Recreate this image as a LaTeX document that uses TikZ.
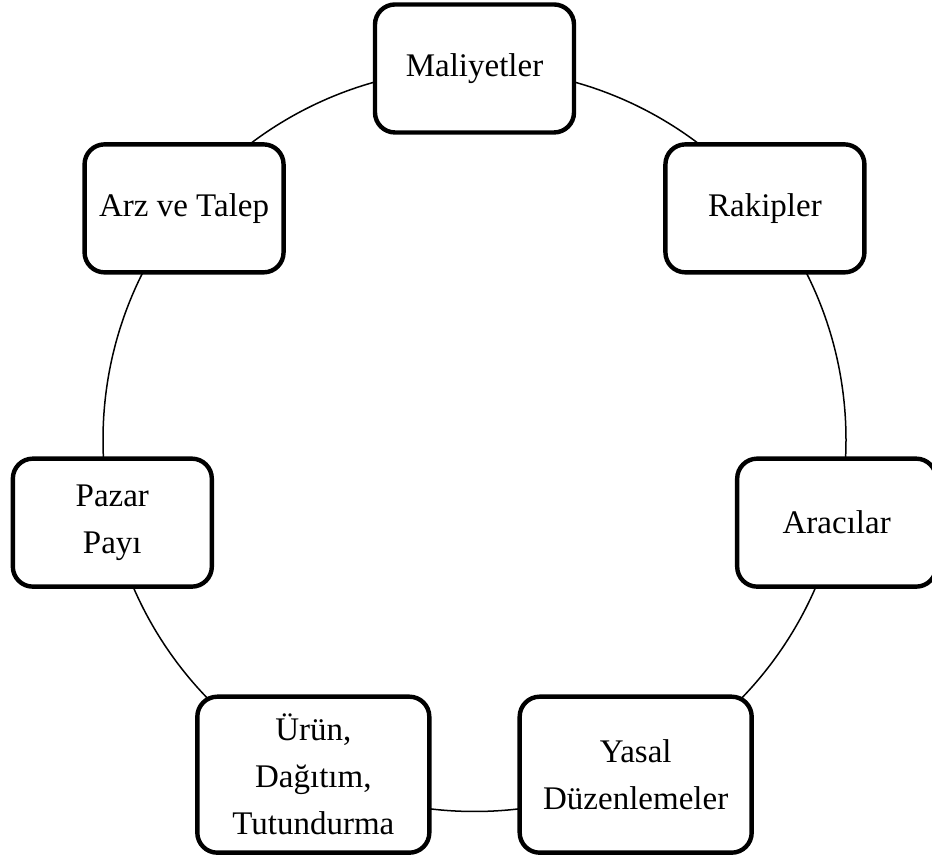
\documentclass[tikz,border=0pt]{standalone}
\usepackage{fontspec}
\setmainfont{Liberation Serif}
\usetikzlibrary{calc}
\begin{document}
\begin{tikzpicture}[x=0.5pt,y=0.5pt,
  ring/.style={line width=0.75pt},
  factor/.style={draw, line width=2.2pt, rounded corners=10pt, fill=white,
    align=center, inner sep=0pt,
    font=\fontsize{16.5}{23.5}\selectfont},
  smallbox/.style={factor, minimum width=99.5pt, minimum height=64pt},
  largebox/.style={factor, minimum width=116pt, minimum height=78pt}]
  \useasboundingbox (0,0) rectangle (932,860);
  \coordinate (c) at (474.5,420);
  % the ring joining the seven factors
  \draw[ring] (c) circle[radius=185.75pt];
  % seven factors spaced evenly round the ring
  \node[smallbox] (maliyet) at ($(c)+(90:185.75pt)$) {Maliyetler};
  \node[smallbox] (rakip) at ($(c)+(38.571:185.75pt)$) {Rakipler};
  \node[smallbox] (araci) at ($(c)+(-12.857:185.75pt)$) {Aracılar};
  \node[largebox] (yasal) at ($(c)+(-64.286:185.75pt)$) {Yasal\\Düzenlemeler};
  \node[largebox] (urun) at ($(c)+(-115.714:185.75pt)$) {Ürün,\\Dağıtım,\\Tutundurma};
  \node[smallbox] (pazar) at ($(c)+(-167.143:185.75pt)$) {Pazar\\Payı};
  \node[smallbox] (arz) at ($(c)+(141.429:185.75pt)$) {Arz ve Talep};
\end{tikzpicture}
\end{document}
